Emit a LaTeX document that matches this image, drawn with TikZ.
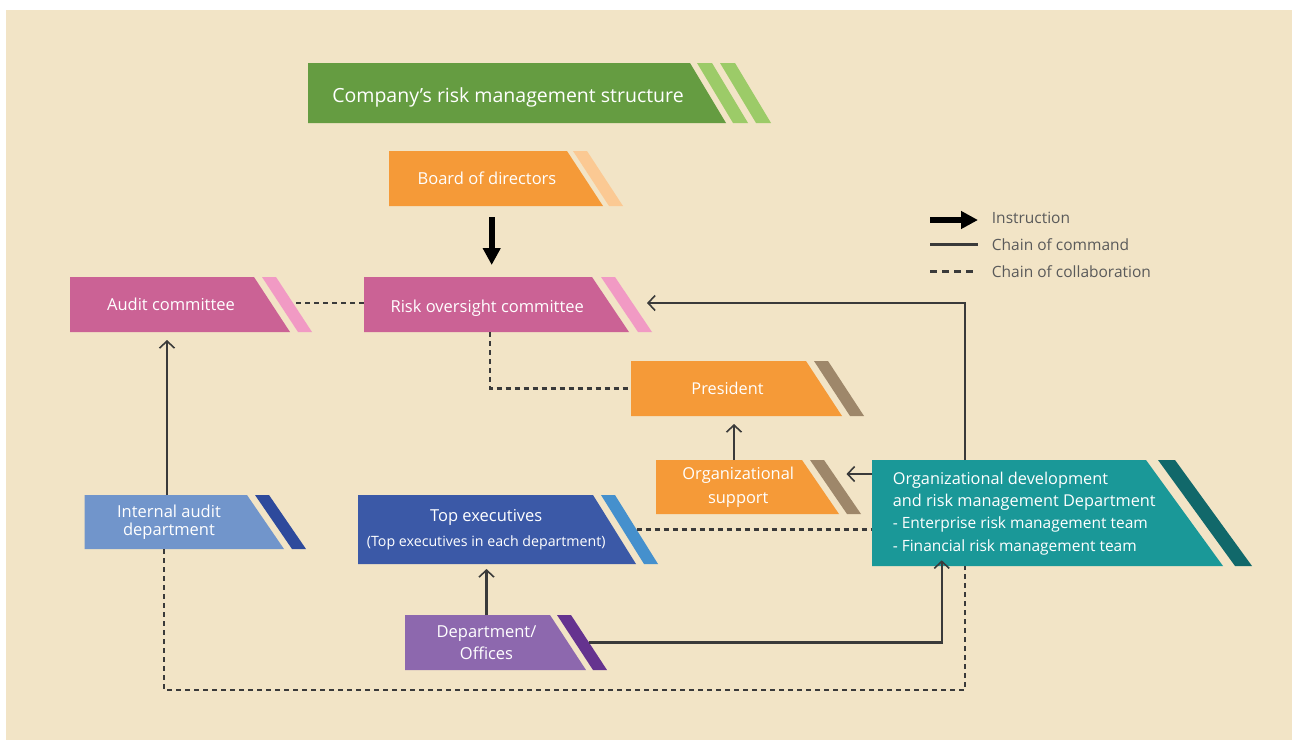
\documentclass[tikz,border=0pt]{standalone}
\usepackage{fontspec}
\setmainfont{Open Sans}
\usetikzlibrary{arrows.meta}
\definecolor{bg}{HTML}{F2E4C6}
\definecolor{green1}{HTML}{659C41}
\definecolor{green2}{HTML}{9CCB68}
\definecolor{orange1}{HTML}{F59A38}
\definecolor{orange2}{HTML}{FBC993}
\definecolor{brown1}{HTML}{9E876A}
\definecolor{pink1}{HTML}{CB6295}
\definecolor{pink2}{HTML}{F19AC4}
\definecolor{teal1}{HTML}{1A9898}
\definecolor{teal2}{HTML}{11686A}
\definecolor{blue1}{HTML}{3B59A7}
\definecolor{blue2}{HTML}{4590CD}
\definecolor{iablue}{HTML}{7195CB}
\definecolor{iadark}{HTML}{2E4A9C}
\definecolor{purple1}{HTML}{8D68AE}
\definecolor{purple2}{HTML}{65338F}
\definecolor{linec}{HTML}{3A3A3A}
\definecolor{legtext}{HTML}{5A5A5A}
\newcommand\sgap{8}
\newcommand\swid{14}
% name, left, top, bottom, top-right, bottom-right, fill, stripe, {size}{skip}
\newcommand\slbox[9]{%
  \fill[#7] (#2,#3) -- (#5,#3) -- (#6,#4) -- (#2,#4) -- cycle;
  \fill[#8] ({#5+\sgap},#3) -- ({#5+\sgap+\swid},#3) -- ({#6+\sgap+\swid},#4) -- ({#6+\sgap},#4) -- cycle;
  \node[boxtext, font=\fontsize#9\selectfont, anchor=north west,
        minimum width={(#5+#6)/2-#2}, minimum height={#4-#3}] (#1) at (#2,#3)}
\newcommand\lowr[2]{\raisebox{-#1pt}[\height][\depth]{#2}}
\begin{document}
\begin{tikzpicture}[x=1pt,y=-1pt,
  boxtext/.style={inner sep=0pt, outer sep=0pt, text=white, align=center},
  cmd/.style={draw=linec, line width=2.3pt, -{Straight Barb[length=7pt,width=15pt,line width=1.6pt]}},
  collab/.style={draw=linec, line width=2.8pt, dash pattern=on 5pt off 4pt},
  instr/.style={draw=black, line width=6pt, -{Triangle[length=17pt,width=17pt]}},
  legtxt/.style={anchor=west, inner sep=0pt, text=legtext, font=\fontsize{15.5}{18}\selectfont}]
\useasboundingbox (0,0) rectangle (1292,740);
\fill[white] (0,0) rectangle (1292,740);
\fill[bg] (6,10) rectangle (1292,740);

% title
\fill[green1] (308,63) -- (690,63) -- (726,123) -- (308,123) -- cycle;
\fill[green2] (697,63) -- (712,63) -- (748,123) -- (733,123) -- cycle;
\fill[green2] (720,63) -- (735,63) -- (771,123) -- (756,123) -- cycle;
\node[boxtext, font=\fontsize{19.5}{23}\selectfont, anchor=north west,
      minimum width=400, minimum height=60] (title) at (308,63) {\lowr{4}{Company’s risk management structure}};

\renewcommand\sgap{6}
\slbox{bd}{389}{151}{206}{567}{603}{orange1}{orange2}{{16.5}{20}} {Board of directors};
\renewcommand\sgap{8}
\slbox{ac}{70}{277}{332}{254}{290}{pink1}{pink2}{{16.5}{20}} {Audit committee};
\renewcommand\sgap{9}
\slbox{ro}{364}{277}{332}{592}{629}{pink1}{pink2}{{16.5}{20}} {\lowr{4}{Risk oversight committee}};
\renewcommand\sgap{8}
\slbox{pr}{631}{361}{416}{806}{842}{orange1}{brown1}{{16.3}{20}} {President};
\slbox{os}{656}{460}{514}{802}{839}{orange1}{brown1}{{16.4}{24}} {Organizational\\support};
\slbox{ia}{84.5}{495}{549}{247}{284}{iablue}{iadark}{{16.5}{18}} {Internal audit\hspace*{12pt}\\department\hspace*{12pt}};
\slbox{te}{358}{495}{564}{593}{636}{blue1}{blue2}{{16.5}{25}} {Top executives\\{\fontsize{14.2}{17}\selectfont (Top executives in each department)}};
\renewcommand\sgap{7}
\slbox{dp}{405}{615}{670}{550}{586}{purple1}{purple2}{{16.5}{22.6}} {Department/\\Offices};
\renewcommand\sgap{12}
\renewcommand\swid{17}
\slbox{tl}{872}{460}{566}{1146}{1223}{teal1}{teal2}{{16.3}{22.3}} {};
\node[anchor=west, align=left, inner sep=0pt, text=white, font=\fontsize{16.3}{22.3}\selectfont]
  (tltxt) at (892.6,513.5) {Organizational development\\and risk management Department\\{\fontsize{15.5}{22.3}\selectfont - Enterprise risk management team}\\{\fontsize{15.5}{22.3}\selectfont - Financial risk management team}};

% connectors
\coordinate (bline) at (965,690);
\draw[instr, shorten <=11pt, shorten >=12pt] ([xshift=4.7pt]bd.south) -- ([xshift=4.7pt]bd.south |- ro.north);
\draw[collab] ([xshift=24pt,yshift=1.5pt]ac.east) -- ([yshift=1.5pt]ro.west);
\draw[collab] ([xshift=2.75pt]ro.south) |- (pr.west);
\draw[cmd] ([xshift=-63.25pt]tl.north) |- ([xshift=36.5pt,yshift=1.5pt]ro.east);
\draw[cmd, shorten >=8pt] ([xshift=-4.25pt]os.north) -- ([xshift=-4.25pt]os.north |- pr.south);
\draw[cmd] ([yshift=39pt]tl.west) -- ([xshift=26pt,yshift=39pt]os.east |- tl.west);
\draw[collab] ([xshift=22pt]te.east) -- (te.east -| tl.west);
\draw[cmd, shorten >=5pt] (dp.north) -- (dp.north |- te.south);
\draw[cmd, shorten >=-5.7pt] ([xshift=21pt]dp.east) -| ([xshift=-86.5pt]tl.south);
\draw[cmd, shorten >=8pt] ([xshift=-8pt]ia.north) -- ([xshift=-8pt]ia.north |- ac.south);
\draw[collab] ([xshift=-11pt]ia.south) |- (bline) -- ([xshift=-63.25pt]tl.south);

% legend
\coordinate (l1a) at (930,220); \coordinate (l1b) at (978,220);
\coordinate (l2a) at (930,244.5); \coordinate (l2b) at (978,244.5);
\coordinate (l3a) at (930,271.5); \coordinate (l3b) at (978,271.5);
\draw[draw=black, line width=6pt, -{Triangle[length=17pt,width=17pt]}] (l1a) -- (l1b);
\draw[draw=linec, line width=2.3pt] (l2a) -- (l2b);
\draw[draw=linec, line width=2.8pt, dash pattern=on 7pt off 5pt] (l3a) -- (l3b);
\node[legtxt] (lt1) at (991.7,218) {Instruction};
\node[legtxt] (lt2) at (991.7,245) {Chain of command};
\node[legtxt] (lt3) at (991.7,271.5) {Chain of collaboration};
\end{tikzpicture}
\end{document}
